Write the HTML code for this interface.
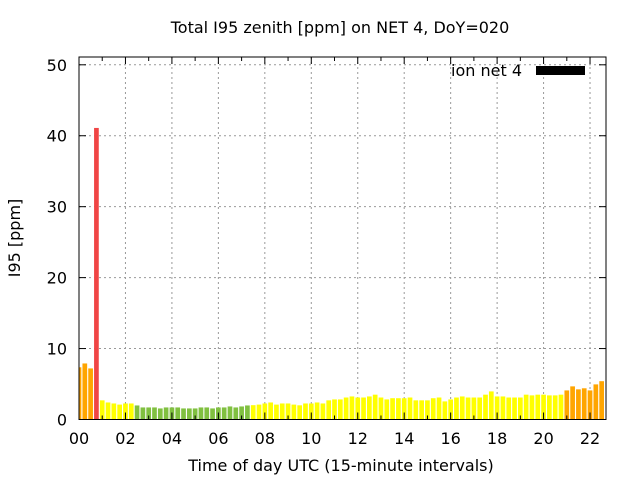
<!DOCTYPE html>
<html><head><meta charset="utf-8"><style>
body{margin:0;background:#fff;}
svg{display:block;font-family:"DejaVu Sans","Liberation Sans",sans-serif;}
</style></head><body>
<svg id="chart" width="640" height="480">
<text x="340" y="33" font-size="16" text-anchor="middle">Total I95 zenith [ppm] on NET 4, DoY=020</text>
<text x="20" y="238" font-size="16" text-anchor="middle" transform="rotate(-90 20 238)">I95 [ppm]</text>
<text x="341" y="471" font-size="16" text-anchor="middle">Time of day UTC (15-minute intervals)</text>
<g id="grid"></g>
<g id="bars"></g>
<g id="axes"></g>
<g>
<text x="522" y="76" font-size="16" text-anchor="end">ion net 4</text>
<rect x="536" y="66" width="49" height="9" fill="#000"></rect>
</g>
</svg>
<script>
const values=[7.36,7.9,7.2,41.1,2.7,2.4,2.26,2.1,2.26,2.26,1.98,1.7,1.7,1.7,1.56,1.7,1.7,1.7,1.56,1.56,1.56,1.7,1.7,1.56,1.7,1.7,1.84,1.7,1.84,1.98,2.02,2.1,2.26,2.4,2.1,2.26,2.26,2.1,2.0,2.26,2.26,2.4,2.26,2.7,2.83,2.83,3.1,3.25,3.1,3.1,3.25,3.5,3.1,2.83,3.0,3.0,3.0,3.1,2.7,2.7,2.7,3.0,3.1,2.55,2.83,3.1,3.25,3.1,3.1,3.1,3.5,3.96,3.25,3.25,3.1,3.1,3.1,3.5,3.4,3.5,3.5,3.4,3.4,3.5,4.1,4.67,4.25,4.4,4.1,4.95,5.4];
const xTickLabels=["00","02","04","06","08","10","12","14","16","18","20","22"];
const yTickLabels=[0,10,20,30,40,50];
const L=79,R=606,T=57,B=419.5,xmax=90.75,ymax=51.1;
const sx=i=>L+(i/xmax)*(R-L);
const sy=v=>B-(v/ymax)*(B-T);
const NS="http://www.w3.org/2000/svg";
function mk(tag,attrs,parent){const e=document.createElementNS(NS,tag);for(const k in attrs)e.setAttribute(k,attrs[k]);parent.appendChild(e);return e;}
const grid=document.getElementById('grid'),bars=document.getElementById('bars'),axes=document.getElementById('axes');
function col(v){return v>=20?"#f04545":v>=4?"#ffa500":v>=2?"#ffff00":"#80c040";}
const cp=mk('clipPath',{id:'pc'},document.getElementById('chart'));
mk('rect',{x:L,y:T,width:R-L,height:B-T},cp);
bars.setAttribute('clip-path','url(#pc)');
values.forEach((v,i)=>{
 const r=mk('rect',{x:sx(i)-2.35,y:sy(v),width:4.7,height:B-sy(v),fill:col(v)},bars);
 
 
});
yTickLabels.forEach(t=>{
 const y=sy(t);
 if(t>0){const g=mk('line',{x1:L,x2:R,y1:y,y2:y,stroke:'#999','stroke-dasharray':'2,3'},grid);}
 mk('line',{x1:L,x2:L+7,y1:y,y2:y,stroke:'#000'},axes);
 mk('line',{x1:R,x2:R-7,y1:y,y2:y,stroke:'#000'},axes);
 const tx=mk('text',{x:L-12,y:y+6,'font-size':16,'text-anchor':'end'},axes);tx.textContent=t;
 
 
});
xTickLabels.forEach((lab,k)=>{
 const x=sx(k*8);
 if(k>0){const g=mk('line',{x1:x,x2:x,y1:T,y2:B,stroke:'#999','stroke-dasharray':'2,3'},grid);}
 mk('line',{x1:x,x2:x,y1:B,y2:B-7,stroke:'#000'},axes);
 mk('line',{x1:x,x2:x,y1:T,y2:T+7,stroke:'#000'},axes);
 const mx=sx(k*8+4);
 if(mx<R){mk('line',{x1:mx,x2:mx,y1:B,y2:B-4,stroke:'#000'},axes);mk('line',{x1:mx,x2:mx,y1:T,y2:T+4,stroke:'#000'},axes);}
 const tx=mk('text',{x:x,y:444,'font-size':16,'text-anchor':'middle'},axes);tx.textContent=lab;
 
 
});
mk('rect',{x:L,y:T,width:R-L,height:B-T,fill:'none',stroke:'#000','stroke-width':1},axes);
</script>
</body></html>
